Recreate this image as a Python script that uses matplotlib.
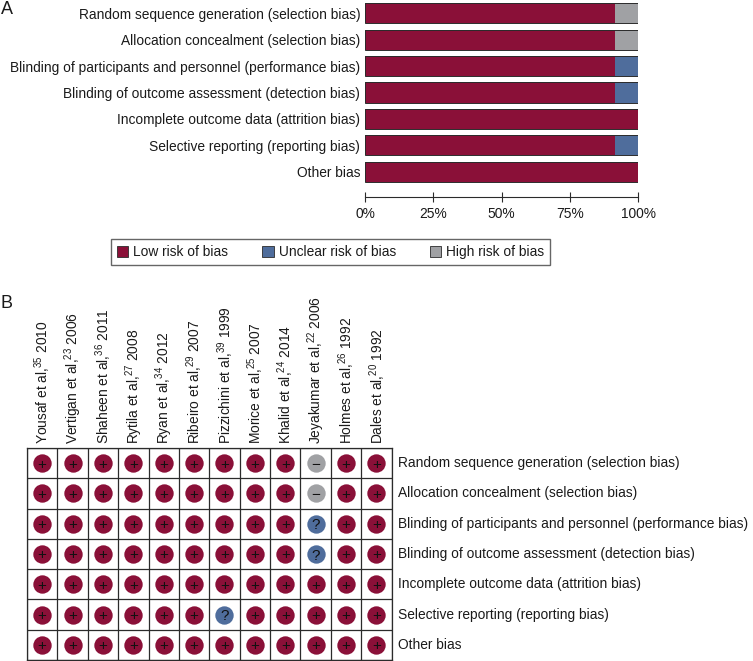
import matplotlib
matplotlib.use("Agg")
import matplotlib.pyplot as plt
from matplotlib.patches import Patch

plt.rcParams["font.family"] = ["Liberation Sans", "DejaVu Sans"]
plt.rcParams["mathtext.default"] = "regular"

W, H = 753, 661

# review domains, top to bottom
domains = [
    "Random sequence generation (selection bias)",
    "Allocation concealment (selection bias)",
    "Blinding of participants and personnel (performance bias)",
    "Blinding of outcome assessment (detection bias)",
    "Incomplete outcome data (attrition bias)",
    "Selective reporting (reporting bias)",
    "Other bias",
]
low_risk = [91.7, 91.7, 91.7, 91.7, 100, 91.7, 100]
unclear_risk = [0, 0, 8.3, 8.3, 0, 8.3, 0]
high_risk = [8.3, 8.3, 0, 0, 0, 0, 0]
pct_ticks = [0, 25, 50, 75, 100]

studies = [
    "Yousaf et al,$^{35}$ 2010",
    "Vertigan et al,$^{23}$ 2006",
    "Shaheen et al,$^{36}$ 2011",
    "Rytila et al,$^{27}$ 2008",
    "Ryan et al,$^{34}$ 2012",
    "Ribeiro et al,$^{29}$ 2007",
    "Pizzichini et al,$^{39}$ 1999",
    "Morice et al,$^{25}$ 2007",
    "Khalid et al,$^{24}$ 2014",
    "Jeyakumar et al,$^{22}$ 2006",
    "Holmes et al,$^{26}$ 1992",
    "Dales et al,$^{20}$ 1992",
]
# one string per domain, one character per study
judgements = [
    "+++++++++-++",
    "+++++++++-++",
    "+++++++++?++",
    "+++++++++?++",
    "++++++++++++",
    "++++++?+++++",
    "++++++++++++",
]

RED = "#8a1038"
BLUE = "#4f6d9c"
GREY = "#a0a1a4"
LINE = "#2b2b2b"
TXT = "#1a1a1a"
FS = 9.95


def px_axes(fig, x0, y0, x1, y1):
    # axes from pixel box, y measured from the top of the image
    return fig.add_axes([x0 / W, 1 - y1 / H, (x1 - x0) / W, (y1 - y0) / H])


fig = plt.figure(figsize=(W / 100, H / 100), dpi=100)

# panel A
ax = px_axes(fig, 365, 0, 638, 185)
ypos = list(range(len(domains)))
left = [0] * len(domains)
for vals, col in [(low_risk, RED), (unclear_risk, BLUE), (high_risk, GREY)]:
    ax.barh(ypos, vals, left=left, height=0.76, color=col, linewidth=0)
    left = [a + b for a, b in zip(left, vals)]
# thin dark frame round every bar
ax.barh(ypos, [100] * 7, height=0.76, fill=False, edgecolor=LINE, linewidth=0.7)
ax.set_xlim(0, 100)
ax.set_ylim(6.5, -0.5)
ax.set_yticks(ypos)
ax.set_yticklabels(domains, fontsize=FS, color=TXT)
ax.tick_params(axis="y", length=0, pad=3.5)
ax.set_xticks([])
for s in ax.spines.values():
    s.set_visible(False)
ax.patch.set_alpha(0)

# percent axis sits apart from the bars
ax2 = px_axes(fig, 365, 190, 638, 196.5)
ax2.set_xlim(0, 100)
ax2.set_yticks([])
ax2.set_xticks(pct_ticks)
ax2.set_xticklabels([f"{t}%" for t in pct_ticks], fontsize=FS, color=TXT)
ax2.tick_params(axis="x", length=6.5, width=0.8, color=LINE, pad=4, direction="inout")
for name, s in ax2.spines.items():
    s.set_visible(name == "bottom")
    s.set_color(LINE)
    s.set_linewidth(0.8)
ax2.patch.set_alpha(0)

# legend
handles = [
    Patch(facecolor=RED, edgecolor=LINE, linewidth=0.6, label="Low risk of bias"),
    Patch(facecolor=BLUE, edgecolor=LINE, linewidth=0.6, label="Unclear risk of bias"),
    Patch(facecolor=GREY, edgecolor=LINE, linewidth=0.6, label="High risk of bias"),
]
leg = fig.legend(
    handles=handles, ncol=3, fontsize=FS, loc="center",
    bbox_to_anchor=(330.5 / W, 1 - 252 / H), frameon=True, fancybox=False,
    edgecolor="#666666", framealpha=1, handlelength=0.85, handleheight=0.85,
    handletextpad=0.35, columnspacing=2.45, borderpad=0.42, labelcolor=TXT,
)
leg.get_frame().set_linewidth(1.0)

# panel B
bx = px_axes(fig, 27, 448, 391.5, 660)
bx.set_xlim(0, len(studies))
bx.set_ylim(len(domains), 0)
bx.set_xticks(range(len(studies) + 1))
bx.set_yticks(range(len(domains) + 1))
bx.grid(True, color=LINE, linewidth=0.9)
bx.set_axisbelow(True)
bx.tick_params(length=0, labelbottom=False, labelleft=False)
for s in bx.spines.values():
    s.set_color(LINE)
    s.set_linewidth(0.9)

styles = {"+": (RED, "+"), "-": (GREY, "\u2212"), "?": (BLUE, "?")}
for r, row in enumerate(judgements):
    for c, mark in enumerate(row):
        col, sym = styles[mark]
        bx.scatter(c + 0.5, r + 0.5, s=175, color=col, linewidth=0, zorder=3)
        bx.text(c + 0.5, r + 0.5, sym, ha="center", va="center_baseline",
                fontsize=11, color="#111111", zorder=4)

for c, name in enumerate(studies):
    bx.text(c + 0.53, -0.12, name, rotation=90, ha="center", va="bottom",
            fontsize=FS, color=TXT)
for r, name in enumerate(domains):
    bx.text(len(studies) + 0.2, r + 0.5, name, ha="left", va="center",
            fontsize=FS, color=TXT, clip_on=False)

fig.text(1 / W, 1 - 10 / H, "A", fontsize=13, va="center", color=TXT)
fig.text(1 / W, 1 - 303 / H, "B", fontsize=13, va="center", color=TXT)

fig.savefig("out.png", dpi=100)
plt.close(fig)
